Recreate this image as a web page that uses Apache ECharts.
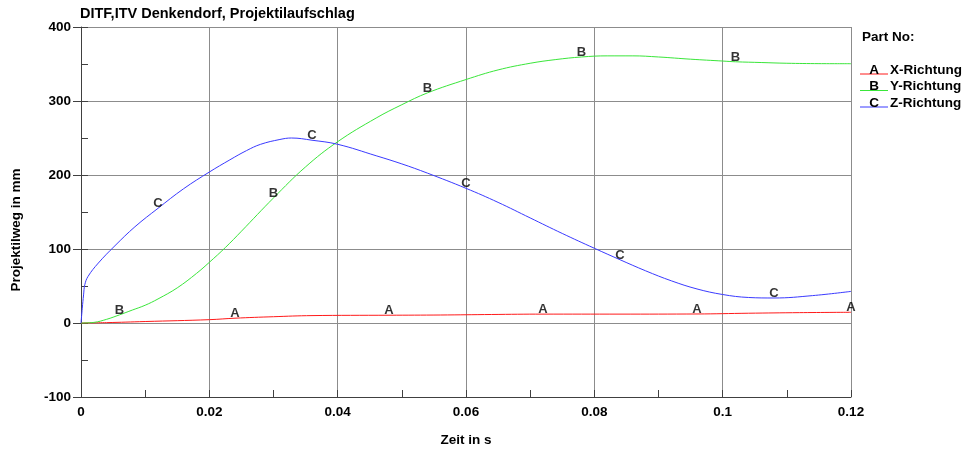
<!DOCTYPE html>
<html>
<head>
<meta charset="utf-8">
<script src="https://cdn.jsdelivr.net/npm/echarts@6/dist/echarts.min.js"></script>
<style>
  html, body { margin: 0; padding: 0; background: #fff; }
  #chart { width: 966px; height: 452px; }
</style>
</head>
<body>
<div id="chart"></div>
<script>
// Projectile travel over time, three directions
const chartTitle = 'DITF,ITV Denkendorf, Projektilaufschlag';
const xAxisTitle = 'Zeit in s';
const yAxisTitle = 'Projektilweg in mm';
const legendTitle = 'Part No:';

const xTicks = [0, 0.02, 0.04, 0.06, 0.08, 0.1, 0.12];
const yTicks = [-100, 0, 100, 200, 300, 400];

const seriesNames = ['X-Richtung', 'Y-Richtung', 'Z-Richtung'];
const seriesLetters = ['A', 'B', 'C'];
const seriesColors = ['#ff1a1a', '#3ae63a', '#3a3aff'];

// [time s, travel mm]
const xRichtung = [
  [0, 0], [0.004, 0.5], [0.01, 2], [0.02, 4.5], [0.024, 6.5], [0.03, 8.5],
  [0.036, 10], [0.048, 10.5], [0.056, 10.8], [0.064, 11.5], [0.072, 12],
  [0.084, 12], [0.096, 12.2], [0.104, 13.2], [0.112, 14], [0.12, 14.5]
];
const yRichtung = [
  [0, 0], [0.002, 0.8], [0.004, 5], [0.006, 11], [0.008, 17.5], [0.01, 24],
  [0.012, 32.5], [0.015, 47.5], [0.018, 67], [0.02, 82], [0.0225, 102],
  [0.025, 124], [0.03, 169], [0.035, 211], [0.04, 245], [0.046, 277],
  [0.05, 295], [0.054, 311], [0.06, 329], [0.065, 342], [0.07, 351],
  [0.074, 356], [0.078, 359.5], [0.082, 361], [0.086, 361], [0.09, 359.5],
  [0.095, 356.5], [0.1, 354], [0.102, 353], [0.106, 352], [0.11, 351],
  [0.115, 350.5], [0.12, 350.4]
];
const zRichtung = [
  [0, 0], [0.0002, 20], [0.0004, 38], [0.0006, 52], [0.0011, 63],
  [0.0027, 81], [0.0053, 104.5], [0.0084, 130], [0.012, 155], [0.016, 181.5],
  [0.02, 204], [0.0232, 220.5], [0.0258, 233], [0.028, 241.5], [0.031, 248],
  [0.0328, 250], [0.036, 247], [0.04, 241.5], [0.046, 226], [0.05, 215],
  [0.054, 202.5], [0.06, 182], [0.065, 163], [0.07, 142], [0.075, 121],
  [0.08, 101], [0.084, 85.5], [0.088, 70.5], [0.092, 57], [0.096, 46],
  [0.1, 38.5], [0.104, 34.5], [0.108, 33.8], [0.114, 37], [0.12, 42.7]
];

// times at which each curve carries its letter
const letterTimesA = [0.024, 0.048, 0.072, 0.096, 0.12];
const letterTimesB = [0.006, 0.03, 0.054, 0.078, 0.102];
const letterTimesC = [0.012, 0.036, 0.06, 0.084, 0.108];

const curves = [xRichtung, yRichtung, zRichtung];
const letterTimes = [letterTimesA, letterTimesB, letterTimesC];

const FONT = '"Liberation Sans", Arial, sans-serif';

const chart = echarts.init(document.getElementById('chart'), null, { renderer: 'canvas' });

const xMin = xTicks[0], xMax = xTicks[xTicks.length - 1], xStep = xTicks[1] - xTicks[0];
const yMin = yTicks[0], yMax = yTicks[yTicks.length - 1], yStep = yTicks[1] - yTicks[0];

const lineSeries = curves.map((data, i) => ({
  name: seriesNames[i],
  type: 'line',
  xAxisIndex: 0,
  yAxisIndex: 0,
  data: data,
  showSymbol: false,
  symbol: 'none',
  smooth: 0.4,
  lineStyle: { color: seriesColors[i], width: 1 },
  z: 3,
  animation: false
}));

const letterSeries = curves.map((data, i) => ({
  name: seriesNames[i] + ' Kennung',
  type: 'scatter',
  xAxisIndex: 0,
  yAxisIndex: 0,
  symbolSize: 0,
  clip: false,
  data: letterTimes[i].map(t => data.find(p => Math.abs(p[0] - t) < 1e-9)),
  label: {
    show: true,
    position: 'top',
    distance: -2,
    formatter: seriesLetters[i],
    color: '#000',
    fontFamily: FONT,
    fontWeight: 'bold',
    fontSize: 13
  },
  z: 5,
  animation: false
}));

const legendRows = seriesNames.map((name, i) => {
  const top = 63 + i * 16.5;
  return [
    { type: 'line', shape: { x1: 860, y1: top + 11, x2: 888, y2: top + 11 },
      style: { stroke: seriesColors[i], lineWidth: 1 } },
    { type: 'text', x: 874, y: top + 7, style: { text: seriesLetters[i], fill: '#000',
      font: 'bold 13.5px ' + FONT, textAlign: 'center', textVerticalAlign: 'middle' } },
    { type: 'text', x: 890, y: top + 7, style: { text: name, fill: '#000',
      font: 'bold 13.5px ' + FONT, textAlign: 'left', textVerticalAlign: 'middle' } }
  ];
}).flat();

const option = {
  backgroundColor: '#fff',
  animation: false,
  textStyle: { fontFamily: FONT },
  title: {
    text: chartTitle,
    left: 80,
    top: 6,
    padding: 0,
    textStyle: { fontFamily: FONT, fontWeight: 'bold', fontSize: 14.5, color: '#000' }
  },
  grid: { left: 81, right: 115, top: 27, bottom: 55, containLabel: false },
  xAxis: [
    {
      type: 'value', min: xMin, max: xMax, interval: xStep,
      name: xAxisTitle, nameLocation: 'middle', nameGap: 36,
      nameTextStyle: { fontFamily: FONT, fontWeight: 'bold', fontSize: 13.5, color: '#000' },
      axisLine: { show: true, onZero: false, lineStyle: { color: '#404040', width: 1 } },
      axisTick: { show: false },
      axisLabel: { margin: 8, color: '#000', fontFamily: FONT, fontWeight: 'bold', fontSize: 13.5 },
      splitLine: { show: true, lineStyle: { color: '#8c8c8c', width: 1 } }
    },
    {
      type: 'value', min: xMin, max: xMax, interval: xStep / 2, position: 'bottom',
      axisLine: { show: false, onZero: false },
      axisTick: { show: true, inside: true, length: 7, lineStyle: { color: '#404040' } },
      axisLabel: { show: false },
      splitLine: { show: false }
    }
  ],
  yAxis: [
    {
      type: 'value', min: yMin, max: yMax, interval: yStep,
      name: yAxisTitle, nameLocation: 'middle', nameGap: 58,
      nameTextStyle: { fontFamily: FONT, fontWeight: 'bold', fontSize: 13.5, color: '#000',
        padding: [0, 36, 0, 0] },
      axisLine: { show: true, onZero: false, lineStyle: { color: '#404040', width: 1 } },
      axisTick: { show: true, inside: false, length: 8, lineStyle: { color: '#404040' } },
      axisLabel: { margin: 10, color: '#000', fontFamily: FONT, fontWeight: 'bold', fontSize: 13.5 },
      splitLine: { show: true, lineStyle: { color: '#8c8c8c', width: 1 } }
    },
    {
      type: 'value', min: yMin, max: yMax, interval: yStep / 2, position: 'left',
      axisLine: { show: false, onZero: false },
      axisTick: { show: true, inside: true, length: 7, lineStyle: { color: '#404040' } },
      axisLabel: { show: false },
      splitLine: { show: false }
    }
  ],
  graphic: [
    { type: 'text', x: 862, y: 37, style: { text: legendTitle, fill: '#000',
      font: 'bold 13.5px ' + FONT, textAlign: 'left', textVerticalAlign: 'middle' } },
    ...legendRows
  ],
  series: [...lineSeries, ...letterSeries]
};

chart.setOption(option);
</script>
</body>
</html>
